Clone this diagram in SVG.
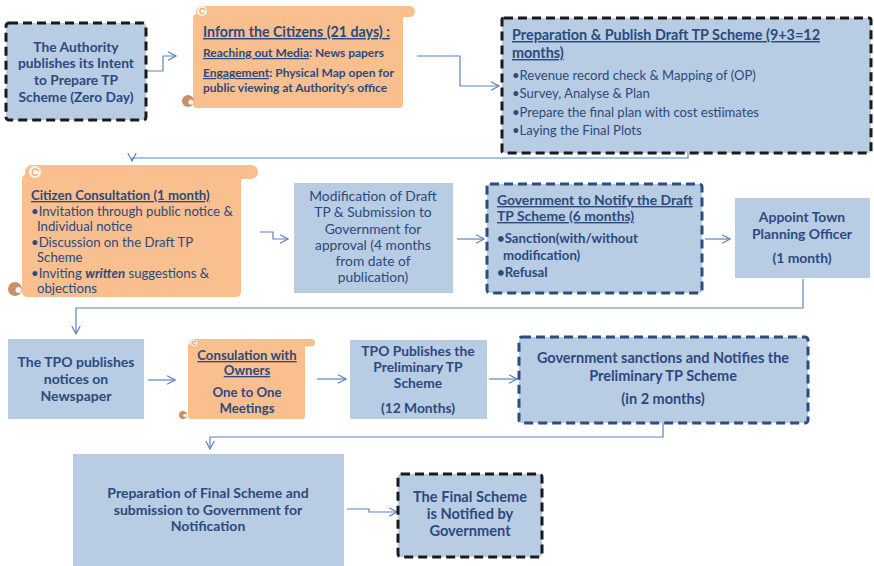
<svg xmlns="http://www.w3.org/2000/svg" width="874" height="566" viewBox="0 0 874 566">
  <defs>
    <marker id="arrow" markerWidth="10" markerHeight="10" refX="9" refY="5" orient="auto" markerUnits="userSpaceOnUse">
      <path d="M1,0.8 L9,5 L1,9.2" fill="none" stroke="#5B84C4" stroke-width="1.2"/>
    </marker>
    <style>
      text { font-family: "Lato", "Liberation Sans", sans-serif; fill: #2B4A7E; }
      .b { font-weight: bold; }
      .u { text-decoration: underline; }
      .c { text-anchor: middle; }
      .box { fill: #B8CCE4; }
      .dk { fill: #B8CCE4; stroke: #1A1A1A; stroke-width: 3; stroke-dasharray: 9 5; }
      .db { fill: #B8CCE4; stroke: #2C4D7F; stroke-width: 3; stroke-dasharray: 9 5; }
      .scroll { fill: #F9BF8F; }
      .curlTop { fill: #FFF4EA; }
      .curlTopIn { fill: none; stroke: #F2A56A; stroke-width: 1.3; }
      .curlBot { fill: #C8916A; }
      .curlBotIn { fill: #FFF4EA; }
      .link { fill: none; stroke: #5B84C4; stroke-width: 1.2; marker-end: url(#arrow); }
    </style>
  </defs>

  <!-- connectors -->
  <g id="connectors">
    <path class="link" d="M146,71 H163 V56 H176"/>
    <path class="link" d="M417,56 H460 V86 H499"/>
    <path class="link" d="M688,153 V158 H132 V161"/>
    <path class="link" d="M260,232 H273 V239 H288"/>
    <path class="link" d="M457,239 H484"/>
    <path class="link" d="M705,239 H730"/>
    <path class="link" d="M803,279 V308 H76 V334"/>
    <path class="link" d="M148,380 H175"/>
    <path class="link" d="M317,379 H346"/>
    <path class="link" d="M489,379 H517"/>
    <path class="link" d="M663,423 V437 H210 V449"/>
    <path class="link" d="M347,509 H369 V512 H397"/>
  </g>

  <!-- step 1 -->
  <g id="intent">
    <rect class="dk" x="6" y="23" width="140" height="97" rx="3"/>
    <text class="b c" font-size="13.8" x="76" y="52">The Authority</text>
    <text class="b c" font-size="13.8" x="76" y="68">publishes its Intent</text>
    <text class="b c" font-size="13.8" x="76" y="85">to Prepare TP</text>
    <text class="b c" font-size="13.8" x="76" y="102">Scheme (Zero Day)</text>
  </g>

  <!-- step 2: scroll -->
  <g id="inform">
    <rect class="scroll" x="193" y="14" width="210" height="94" rx="4"/>
    <rect class="scroll" x="196" y="6" width="219" height="11" rx="5.5"/>
    <circle class="curlTop" cx="202" cy="11" r="5"/>
    <path class="curlTopIn" d="M205,10.5 A2.6,2.6 0 1 0 204,13"/>
    <circle class="curlBot" cx="188" cy="101" r="6"/>
    <circle class="curlBotIn" cx="191" cy="102" r="2.6"/>
    <text class="b u" font-size="14.2" x="203" y="37">Inform the Citizens (21 days) :</text>
    <text class="b" font-size="12" x="203" y="57"><tspan class="u">Reaching out Media</tspan>: News papers</text>
    <text class="b" font-size="12" x="203" y="77"><tspan class="u">Engagement</tspan>: Physical Map open for</text>
    <text class="b" font-size="12" x="203" y="92">public viewing at Authority's office</text>
  </g>

  <!-- step 3 -->
  <g id="draft">
    <rect class="dk" x="502" y="18" width="369" height="135" rx="2"/>
    <text class="b u" font-size="14.4" x="512" y="40">Preparation &amp; Publish Draft TP Scheme (9+3=12</text>
    <text class="b u" font-size="14.4" x="512" y="58">months)</text>
    <text font-size="13.1" x="512" y="80">•Revenue record check &amp; Mapping of (OP)</text>
    <text font-size="13.1" x="512" y="98">•Survey, Analyse &amp; Plan</text>
    <text font-size="13.1" x="512" y="117">•Prepare the final plan with cost estiimates</text>
    <text font-size="13.1" x="512" y="135">•Laying the Final Plots</text>
  </g>

  <!-- step 4: scroll -->
  <g id="consultation">
    <rect class="scroll" x="22" y="174" width="219" height="123" rx="5"/>
    <rect class="scroll" x="25" y="165" width="233" height="14" rx="7"/>
    <circle class="curlTop" cx="35" cy="172" r="6"/>
    <path class="curlTopIn" d="M38.5,171.5 A3.2,3.2 0 1 0 37.5,174.5"/>
    <circle class="curlBot" cx="15" cy="289" r="7"/>
    <circle class="curlBotIn" cx="18.5" cy="290" r="3"/>
    <text class="b u" font-size="13.2" x="31" y="200">Citizen Consultation (1 month)</text>
    <text font-size="13.2" x="31" y="216">•Invitation through public notice &amp;</text>
    <text font-size="13.2" x="37" y="231">Individual notice</text>
    <text font-size="13.2" x="31" y="247">•Discussion on the Draft TP</text>
    <text font-size="13.2" x="37" y="262">Scheme</text>
    <text font-size="13.2" x="31" y="278">•Inviting <tspan font-weight="bold" font-style="italic">written</tspan> suggestions &amp;</text>
    <text font-size="13.2" x="37" y="293">objections</text>
  </g>

  <!-- step 5 -->
  <g id="modification">
    <rect class="box" x="294" y="183" width="159" height="110"/>
    <text class="c" font-size="13.8" x="373" y="201">Modification of Draft</text>
    <text class="c" font-size="13.8" x="373" y="217">TP &amp; Submission to</text>
    <text class="c" font-size="13.8" x="373" y="234">Government for</text>
    <text class="c" font-size="13.8" x="373" y="250">approval (4 months</text>
    <text class="c" font-size="13.8" x="373" y="266">from date of</text>
    <text class="c" font-size="13.8" x="373" y="282">publication)</text>
  </g>

  <!-- step 6 -->
  <g id="notify-draft">
    <rect class="db" x="487" y="184" width="215" height="109" rx="3"/>
    <text class="b u" font-size="13.9" x="497" y="205">Government to Notify the Draft</text>
    <text class="b u" font-size="13.9" x="497" y="221">TP Scheme (6 months)</text>
    <text class="b" font-size="13.2" x="497" y="243">•Sanction(with/without</text>
    <text class="b" font-size="13.2" x="503" y="260">modification)</text>
    <text class="b" font-size="13.2" x="497" y="277">•Refusal</text>
  </g>

  <!-- step 7 -->
  <g id="appoint-tpo">
    <rect class="box" x="735" y="198" width="135" height="80"/>
    <text class="b c" font-size="13.9" x="802" y="222">Appoint Town</text>
    <text class="b c" font-size="13.9" x="802" y="239">Planning Officer</text>
    <text class="b c" font-size="13.9" x="802" y="263">(1 month)</text>
  </g>

  <!-- step 8 -->
  <g id="tpo-notices">
    <rect class="box" x="8" y="339" width="136" height="80"/>
    <text class="b c" font-size="14" x="76" y="367">The TPO publishes</text>
    <text class="b c" font-size="14" x="76" y="384">notices on</text>
    <text class="b c" font-size="14" x="76" y="401">Newspaper</text>
  </g>

  <!-- step 9: scroll -->
  <g id="owners">
    <rect class="scroll" x="188" y="343" width="117" height="76" rx="3"/>
    <rect class="scroll" x="190" y="339" width="125" height="7.5" rx="3.7"/>
    <circle class="curlTop" cx="194" cy="342.8" r="3.4"/>
    <path class="curlTopIn" d="M196,342.5 A1.7,1.7 0 1 0 195.4,344.2"/>
    <circle class="curlBot" cx="183" cy="415" r="4"/>
    <circle class="curlBotIn" cx="185" cy="415.5" r="1.8"/>
    <text class="b u c" font-size="13.2" x="247" y="360">Consulation with</text>
    <text class="b u c" font-size="13.2" x="247" y="375">Owners</text>
    <text class="b c" font-size="13.2" x="247" y="397">One to One</text>
    <text class="b c" font-size="13.2" x="247" y="413">Meetings</text>
  </g>

  <!-- step 10 -->
  <g id="tpo-preliminary">
    <rect class="box" x="350" y="340" width="137" height="79"/>
    <text class="b c" font-size="13.8" x="418" y="356">TPO Publishes the</text>
    <text class="b c" font-size="13.8" x="418" y="372">Preliminary TP</text>
    <text class="b c" font-size="13.8" x="418" y="388">Scheme</text>
    <text class="b c" font-size="13.8" x="418" y="413">(12 Months)</text>
  </g>

  <!-- step 11 -->
  <g id="gov-preliminary">
    <rect class="db" x="519" y="337" width="289" height="86" rx="3"/>
    <text class="b c" font-size="14.5" x="663" y="363">Government sanctions and Notifies the</text>
    <text class="b c" font-size="14.5" x="663" y="381">Preliminary TP Scheme</text>
    <text class="b c" font-size="14.5" x="663" y="404">(in 2 months)</text>
  </g>

  <!-- step 12 -->
  <g id="final-prep">
    <rect class="box" x="73" y="454" width="271" height="116"/>
    <text class="b c" font-size="14" x="208" y="498">Preparation of Final Scheme and</text>
    <text class="b c" font-size="14" x="208" y="515">submission to Government for</text>
    <text class="b c" font-size="14" x="208" y="531">Notification</text>
  </g>

  <!-- step 13 -->
  <g id="final-notified">
    <rect class="dk" x="398" y="474" width="144" height="83" rx="3"/>
    <text class="b c" font-size="14.6" x="470" y="502">The Final Scheme</text>
    <text class="b c" font-size="14.6" x="470" y="519">is Notified by</text>
    <text class="b c" font-size="14.6" x="470" y="536">Government</text>
  </g>
</svg>
